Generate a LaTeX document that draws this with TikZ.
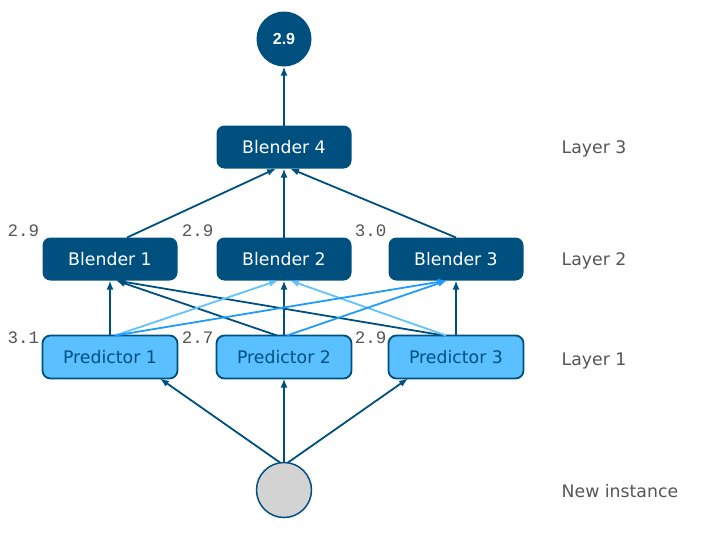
\documentclass[tikz,border=0pt]{standalone}
\usepackage{fontspec}
\setmainfont{DejaVu Sans}
\newfontfamily\typefont{Liberation Mono}
\newfontfamily\arialfont{Liberation Sans}
\usetikzlibrary{arrows.meta,positioning}
\definecolor{mork}{HTML}{00507F}
\definecolor{lys}{HTML}{5BC0FF}
\definecolor{lyspil}{HTML}{62C2FF}
\definecolor{midpil}{HTML}{1F9BFF}
\definecolor{gratekst}{HTML}{555555}
\definecolor{gra}{HTML}{D3D3D3}
\tikzset{
    %Define standard arrow tip
    >={Latex[length=9pt,width=7pt]},
    %Define style for boxes
    blendrect/.style={
           rectangle,
           rounded corners=8pt,
           fill=mork,
           text=white,
           outer sep=0pt,
           minimum width=135pt,
           minimum height=43pt,
           font=\fontsize{17.3}{20}\selectfont,
           text centered},
    predrect/.style={
           rectangle,
           rounded corners=8pt,
           draw=mork, line width=1.8pt,
           fill=lys,
           text=mork,
           outer sep=0pt,
           minimum width=135pt,
           minimum height=43pt,
           font=\fontsize{17.3}{20}\selectfont,
           text centered},
    punkt/.style={
           circle,
           outer sep=0pt,
           inner sep=0pt,
           minimum size=55pt},
    % Define text styles
    verdi/.style={
           inner sep=0pt,
           text=gratekst,
           font=\typefont\fontsize{17.5}{20}\selectfont},
    lag/.style={
           inner sep=0pt,
           anchor=west,
           text=gratekst,
           font=\fontsize{17.3}{20}\selectfont},
    % Define arrow style
    pil/.style={
           every edge/.style={
               draw=#1,
               ->,
               line width=1.8pt}},
    pil/.default=mork
}
\begin{document}
\begin{tikzpicture}[x=1pt,y=1pt,node distance=55pt,auto]
\useasboundingbox (0,0) rectangle (725,-539);
 %nodes
\node[predrect](p2) at (284,-357){Predictor 2};
\node[predrect, left=39pt of p2](p1){Predictor 1};
\node[predrect, right=37pt of p2](p3){Predictor 3};
\node[blendrect, above=of p1](b1){Blender 1};
\node[blendrect, above=of p2](b2){Blender 2};
\node[blendrect, above=of p3](b3){Blender 3};
\node[blendrect, above=69pt of b2](b4){Blender 4};
\node[punkt, fill=mork, text=white, font=\arialfont\bfseries\fontsize{16}{19}\selectfont, above=59pt of b4](ut){2.9};
\node[punkt, fill=gra, draw=mork, line width=1.5pt, below=84pt of p2](inn){};
 %values
\node[verdi] (v1) at ([shift={(-19pt,7pt)}]b1.north west) {2.9};
\node[verdi] (v2) at ([shift={(-19pt,7pt)}]b2.north west) {2.9};
\node[verdi] (v3) at ([shift={(-18pt,7pt)}]b3.north west) {3.0};
\node[verdi] (v4) at ([shift={(-19pt,-2.5pt)}]p1.north west) {3.1};
\node[verdi] (v5) at ([shift={(-19pt,-2.5pt)}]p2.north west) {2.7};
\node[verdi] (v6) at ([shift={(-18pt,-2.5pt)}]p3.north west) {2.9};
 %layers
\node[lag, right=38pt of b3, yshift=-1.5pt](l2){Layer 2};
\node[lag] (l3) at ([yshift=-1.5pt]l2.west |- b4) {Layer 3};
\node[lag] (l1) at ([yshift=-3.5pt]l2.west |- p3) {Layer 1};
\node[lag] (l0) at ([yshift=-1.5pt]l2.west |- inn) {New instance};
 %edges
 \path[pil]
    ([xshift=-4pt]inn.north) edge ([xshift=50pt]p1.south)
    (inn) edge (p2)
    ([xshift=4pt]inn.north) edge ([xshift=-48pt]p3.south)
    (p1) edge (b1)
    (p2) edge (b2)
    (p3) edge (b3)
    ([xshift=-7pt]p2.north) edge ([xshift=6pt]b1.south)
    ([xshift=-12pt]p3.north) edge ([xshift=6pt]b1.south)
    ([xshift=17pt]b1.north) edge ([xshift=-8pt]b4.south)
    (b2) edge (b4)
    (b3.north) edge ([xshift=6pt]b4.south)
    (b4) edge (ut);
 \path[pil=lyspil]
    ([xshift=5pt]p1.north) edge ([xshift=-6pt]b2.south)
    ([xshift=-10pt]p3.north) edge ([xshift=6pt]b2.south);
 \path[pil=midpil]
    ([xshift=5pt]p1.north) edge ([xshift=-9pt]b3.south)
    ([xshift=3pt]p2.north) edge ([xshift=-9pt]b3.south);
\end{tikzpicture}
\end{document}
